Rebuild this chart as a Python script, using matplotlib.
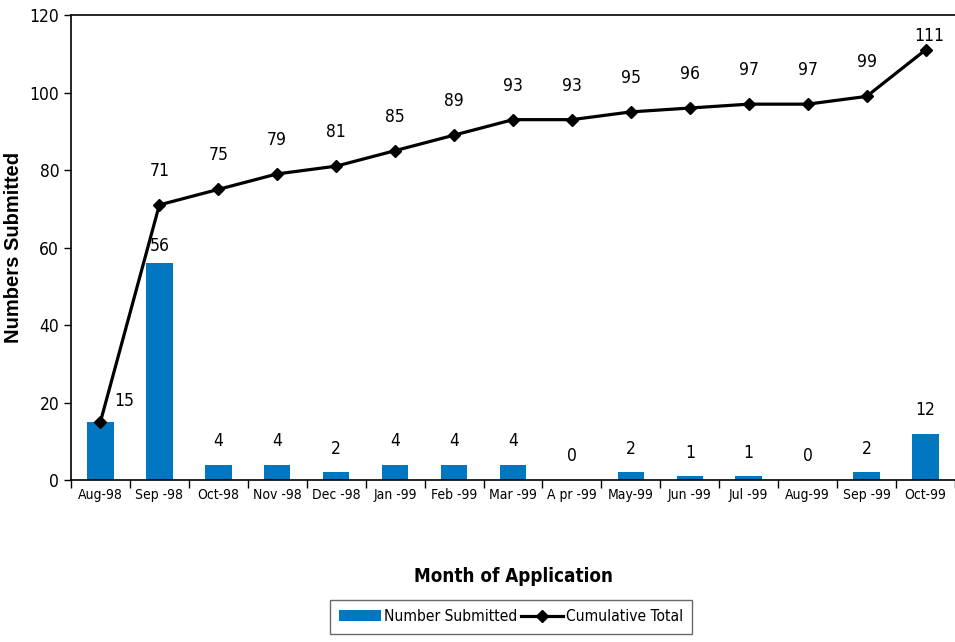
import matplotlib.pyplot as plt
from matplotlib import font_manager
import numpy as np

months = ['Aug-98', 'Sep -98', 'Oct-98', 'Nov -98', 'Dec -98', 'Jan -99', 'Feb -99',
          'Mar -99', 'A pr -99', 'May-99', 'Jun -99', 'Jul -99', 'Aug-99', 'Sep -99', 'Oct-99']
submitted = [15, 56, 4, 4, 2, 4, 4, 4, 0, 2, 1, 1, 0, 2, 12]
cumulative = [15, 71, 75, 79, 81, 85, 89, 93, 93, 95, 96, 97, 97, 99, 111]

# prefer a narrow sans face if one is installed
fonts = font_manager.fontManager.ttflist
names = {f.name for f in fonts}
narrow_stretch = 'normal'
if 'Liberation Sans Narrow' in names:
    narrow = 'Liberation Sans Narrow'
elif any(f.name == 'DejaVu Sans' and f.stretch == 'condensed' for f in fonts):
    narrow = 'DejaVu Sans'
    narrow_stretch = 'condensed'
else:
    narrow = 'Liberation Sans'
plt.rcParams['font.family'] = [narrow, 'DejaVu Sans']
plt.rcParams['font.stretch'] = narrow_stretch

fig = plt.figure(figsize=(9.55, 6.42), dpi=100)
ax = fig.add_axes([0.0743, 0.2523, 0.9257, 0.7243])

x = np.arange(len(months))
bar_color = '#0077C0'
bars = ax.bar(x, submitted, width=0.45, color=bar_color, label='Number Submitted', zorder=2)
line, = ax.plot(x, cumulative, color='black', lw=2.3, marker='D', markersize=6,
                label='Cumulative Total', zorder=3)

fs = 12.5

# value labels: bars just above the bar, totals higher above the point
for i, v in enumerate(submitted):
    if i == 0:
        continue  # the Aug-98 bar shares its label with the line
    dy = 12 if i == 1 else 17
    ax.annotate(str(v), (x[i], v), xytext=(0, dy), textcoords='offset points',
                ha='center', va='center', fontsize=fs)
for i, v in enumerate(cumulative):
    if i == 0:
        off = (17, 15)
    elif i == len(cumulative) - 1:
        off = (3, 10)
    else:
        off = (0, 24.5)
    ax.annotate(str(v), (x[i], v), xytext=off, textcoords='offset points',
                ha='center', va='center', fontsize=fs)

ax.set_xlim(-0.5, len(months) - 0.5)
ax.set_ylim(0, 120)
ax.set_yticks(range(0, 121, 20))
ax.tick_params(axis='y', labelsize=fs, length=5, width=1, direction='out')
ax.set_xticks(x)
ax.set_xticklabels(months, fontsize=10)
ax.set_xticks(np.arange(-0.5, len(months), 1), minor=True)
ax.tick_params(axis='x', which='major', length=0, pad=6)
ax.tick_params(axis='x', which='minor', length=6, width=1, direction='out')

ax.spines['right'].set_visible(False)
for s in ['left', 'top', 'bottom']:
    ax.spines[s].set_linewidth(1.2)

ax.set_ylabel('Numbers Submitted', fontsize=14.5, fontweight='bold',
              family=['Liberation Sans', 'DejaVu Sans'], stretch='normal')
ax.yaxis.set_label_coords(-0.054, 0.5)
fig.text(514 / 955, 1 - 577 / 642, 'Month of Application', fontsize=13.5, fontweight='bold',
         ha='center', va='center')

leg = fig.legend(handles=[bars, line], loc='upper left',
                 bbox_to_anchor=(330 / 955, 1 - 600 / 642), ncol=2, fontsize=11.2,
                 frameon=True, fancybox=False, edgecolor='#444444', borderpad=0.6,
                 handlelength=2.7, handletextpad=0.2, columnspacing=0.2,
                 borderaxespad=0)
leg.get_frame().set_linewidth(1.0)

fig.savefig('out.png', dpi=100)
